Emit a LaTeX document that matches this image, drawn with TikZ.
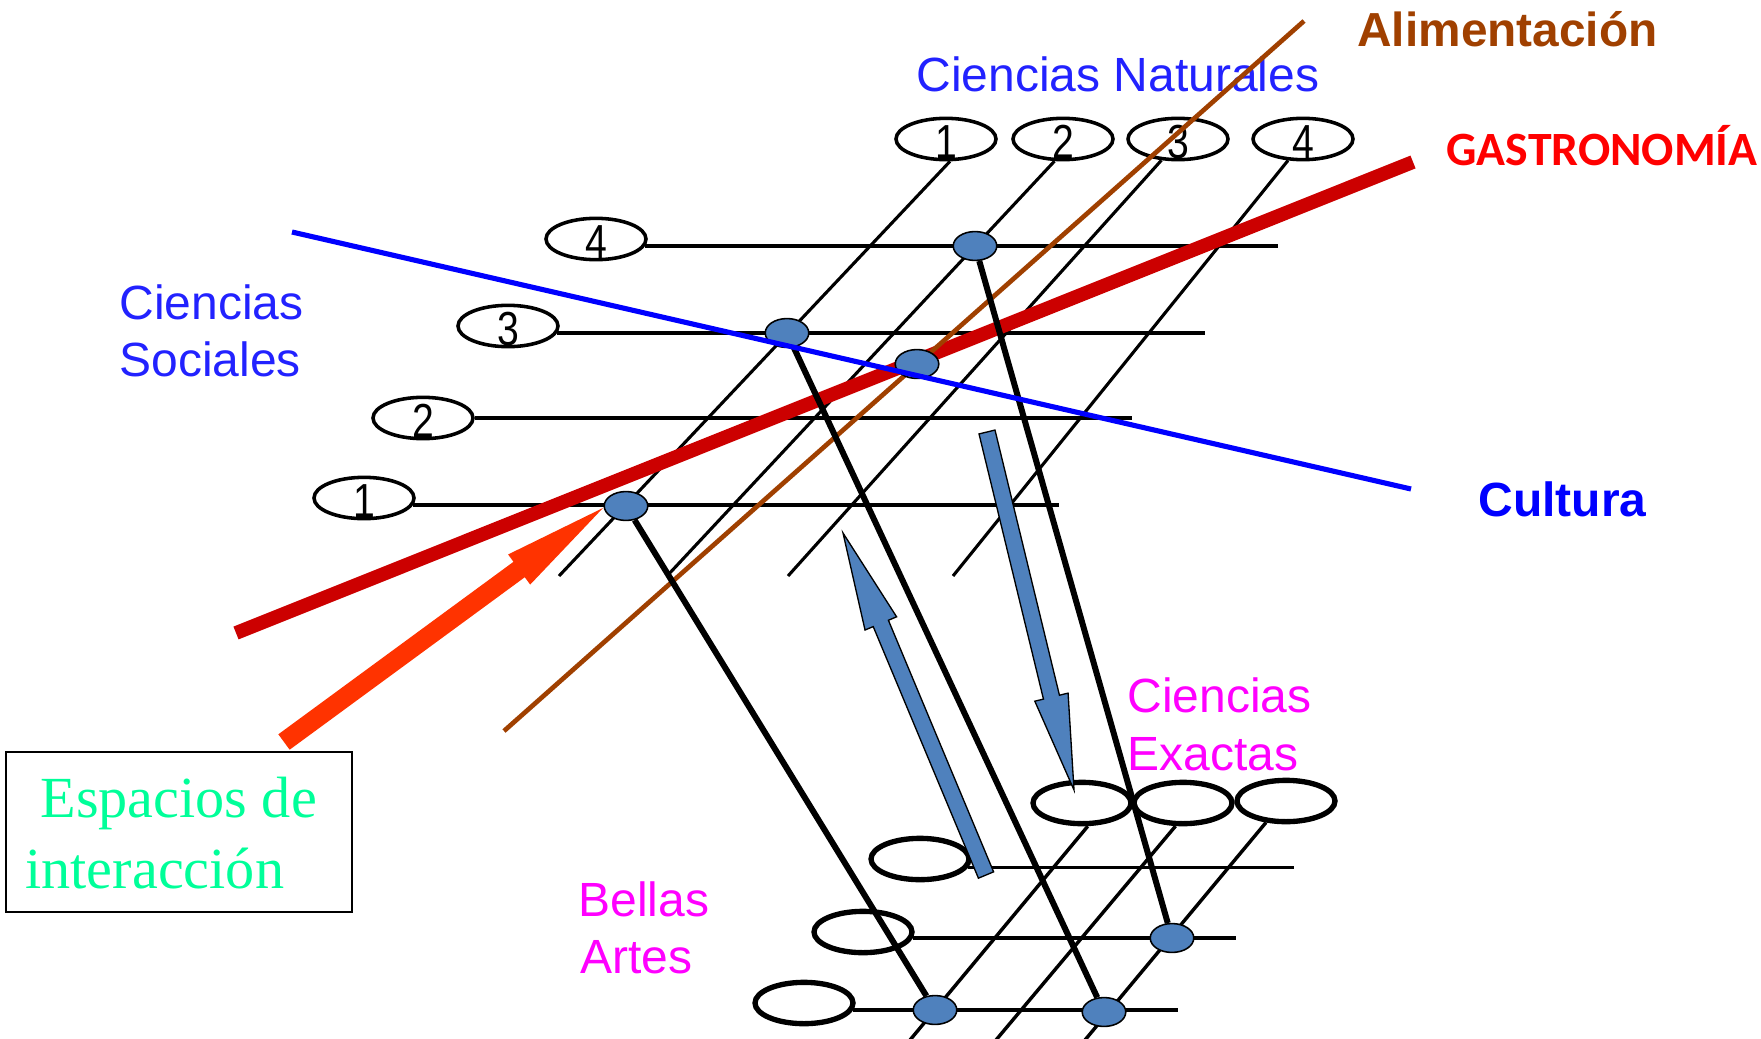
\documentclass[tikz,border=0pt]{standalone}
\usepackage{fontspec}
\setmainfont{Liberation Serif}
\setsansfont{Liberation Sans}
\newfontfamily\arialf{Liberation Sans}
\newfontfamily\narrowf[FakeStretch=0.82]{Liberation Sans}
\newfontfamily\calibrif{Carlito}
\usetikzlibrary{shapes.geometric,calc}
\definecolor{natblue}{RGB}{34,34,255}
\definecolor{culblue}{RGB}{0,0,255}
\definecolor{brownA}{RGB}{160,64,0}
\definecolor{gastrotext}{RGB}{255,0,0}
\definecolor{gastroline}{RGB}{204,0,0}
\definecolor{magentaA}{RGB}{255,0,255}
\definecolor{greenA}{RGB}{0,255,153}
\definecolor{dotblue}{RGB}{79,129,189}
\definecolor{orangeA}{RGB}{255,51,0}
% block arrow: #1 style, #2 tail, #3 tip, #4 head-base name, #5 shaft half width, #6 head half width, #7 head length
\newcommand\blockarr[7]{%
  \coordinate (#4) at ($(#3)!#7!(#2)$);
  \path[#1] ($(#2)!#5!90:(#3)$) -- ($(#4)!#5!90:(#3)$) -- ($(#4)!#6!90:(#3)$) -- (#3)
    -- ($(#4)!#6!-90:(#3)$) -- ($(#4)!#5!-90:(#3)$) -- ($(#2)!#5!-90:(#3)$) -- cycle;}
\begin{document}
\begin{tikzpicture}[x=0.45pt,y=-0.45pt,
  lbl/.style={inner sep=0pt,anchor=base west,font=\arialf\fontsize{21.6pt}{26pt}\selectfont},
  boldlbl/.style={inner sep=0pt,anchor=base west,font=\arialf\bfseries\fontsize{21.6pt}{26pt}\selectfont},
  topell/.style={ellipse,draw,line width=1.6pt,minimum width=45pt,minimum height=18.6pt,inner sep=0pt},
  lowell/.style={ellipse,draw,line width=2.4pt,minimum width=44.1pt,minimum height=18.6pt,inner sep=0pt},
  digit/.style={inner sep=0pt,anchor=base,font=\narrowf\fontsize{21.5pt}{24pt}\selectfont},
  dot/.style={ellipse,draw,fill=dotblue,line width=0.7pt,minimum width=19.6pt,minimum height=13pt,inner sep=0pt},
  gridN/.style={line width=1.4pt},
  gridS/.style={line width=1.5pt},
  gridL/.style={line width=1.55pt},
  link/.style={line width=2.7pt},
  boxst/.style={draw,line width=0.9pt,minimum width=155.7pt,minimum height=72pt,inner sep=0pt},
  serif/.style={inner sep=0pt,anchor=base west,text=greenA,font=\rmfamily\fontsize{26.2pt}{31pt}\selectfont}
]
\path[use as bounding box,fill=white] (0,0) rectangle (1761,1038);

% ---- upper grid: Ciencias Naturales (top) ----
\node[topell] (n1) at (946,139) {};
\node[topell] (n2) at (1063,139) {};
\node[topell] (n3) at (1178,139) {};
\node[topell] (n4) at (1303,139) {};
\node[digit] (n1t) at ($(n1)+(0,20)$) {1};
\node[digit] (n2t) at ($(n2)+(0,20)$) {2};
\node[digit] (n3t) at ($(n3)+(0,20)$) {3};
\node[digit] (n4t) at ($(n4)+(0,20)$) {4};
\coordinate (n1e) at (559,576);
\coordinate (n2e) at (667,576);
\coordinate (n3e) at (788,576);
\coordinate (n4e) at (953,576);
\draw[gridN] (n1.-80) -- (n1e);
\draw[gridN] (n2.-111) -- (n2e);
\draw[gridN] (n3.-128) -- (n3e);
\draw[gridN] (n4.-125) -- (n4e);

% ---- upper grid: Ciencias Sociales (left) ----
\node[topell] (s4) at (596,239) {};
\node[topell] (s3) at (508,326) {};
\node[topell] (s2) at (423,418) {};
\node[topell] (s1) at (364,498) {};
\node[digit] (s4t) at ($(s4)+(0,19.5)$) {4};
\node[digit] (s3t) at ($(s3)+(0,19.5)$) {3};
\node[digit] (s2t) at ($(s2)+(0,19.5)$) {2};
\node[digit] (s1t) at ($(s1)+(0,19.5)$) {1};
\coordinate (s4e) at (1278,246);
\coordinate (s3e) at (1205,332);
\coordinate (s2e) at (1132,418);
\coordinate (s1e) at (1059,504);
\draw[gridS] (s4.-8) -- (s4.-8 -| s4e);
\draw[gridS] (s3.-8) -- (s3.-8 -| s3e);
\draw[gridS] (s2.0) -- (s2.0 -| s2e);
\draw[gridS] (s1.-8) -- (s1.-8 -| s1e);

% ---- lower grid: Ciencias Exactas / Bellas Artes ----
\node[lowell] (e1) at (1082,803) {};
\node[lowell] (e2) at (1183,803) {};
\node[lowell] (e3) at (1286,801) {};
\node[lowell] (b1) at (920,859) {};
\node[lowell] (b2) at (863,932) {};
\node[lowell] (b3) at (804,1003) {};
\coordinate (e1e) at (910,1040);
\coordinate (e2e) at (996,1040);
\coordinate (e3e) at (1085,1040);
\draw[gridL] (e1.-76) -- (e1e);
\draw[gridL] (e2.-108) -- (e2e);
\draw[gridL] (e3.-133) -- (e3e);
\coordinate (b1e) at (1294,867);
\coordinate (b2e) at (1236,938);
\coordinate (b3e) at (1178,1010);
\draw[gridL] (b1.-10) -- (b1.-10 -| b1e);
\draw[gridL] (b2.-7) -- (b2.-7 -| b2e);
\draw[gridL] (b3.-8) -- (b3.-8 -| b3e);

% ---- label under the brown line ----
\node[lbl,text=natblue] (naturales) at (916,92) {Ciencias Naturales};

% ---- thematic lines ----
\coordinate (g1) at (236,633);
\coordinate (g2) at (1413,162);
\draw[gastroline,line width=6.2pt] (g1) -- (g2);
\coordinate (a1) at (504,731);
\coordinate (a2) at (1304,21);
\draw[brownA,line width=2.1pt] (a1) -- (a2);

% ---- dots ----
\node[dot] (d1) at (626,506) {};
\node[dot] (d2) at (787,333) {};
\node[dot] (d3) at (975,246) {};
\node[dot] (d4) at (917,364) {};
\node[dot] (l1) at (935,1010) {};
\node[dot] (l2) at (1104,1012) {};
\node[dot] (l3) at (1172,938) {};

% ---- thick links ----
\draw[link] (d1) -- (l1);
\draw[link] (d2) -- (l2);
\draw[link] (d3) -- (l3);

% ---- culture line ----
\coordinate (c1) at (292,232);
\coordinate (c2) at (1411,489);
\draw[culblue,line width=2.3pt] (c1) -- (c2);

% ---- block arrows ----
\coordinate (uA) at (986,875);
\coordinate (uB) at (843,533);
\blockarr{fill=dotblue,draw=black,line width=0.6pt}{uA}{uB}{uH}{3.7pt}{7.7pt}{44.1pt}
\coordinate (vA) at (987,432);
\coordinate (vB) at (1074,790);
\blockarr{fill=dotblue,draw=black,line width=0.6pt}{vA}{vB}{vH}{3.7pt}{7.7pt}{43pt}
\coordinate (oA) at (284,742);
\coordinate (oB) at (603,508);
\blockarr{fill=orangeA}{oA}{oB}{oH}{4.3pt}{8.4pt}{46.8pt}

% ---- box ----
\node[boxst] (box) at (179,832) {};
\node[serif] (esp1) at (40,817) {Espacios de};
\node[serif] (esp2) at (25,888) {interacción};

% ---- labels ----
\node[boldlbl,text=brownA,font=\arialf\bfseries\fontsize{21.5pt}{26pt}\selectfont] (alim) at (1357,47) {Alimentación};
\node[inner sep=0pt,anchor=base west,text=gastrotext,font=\calibrif\bfseries\fontsize{21.5pt}{25pt}\selectfont] (gastro) at (1446,166) {GASTRONOMÍA};
\node[lbl,text=natblue] (soc1) at (119,319) {Ciencias};
\node[lbl,text=natblue] (soc2) at (119,376) {Sociales};
\node[boldlbl,text=culblue] (cultura) at (1478,516) {Cultura};
\node[lbl,text=magentaA] (exa1) at (1127,712) {Ciencias};
\node[lbl,text=magentaA] (exa2) at (1127,770) {Exactas};
\node[lbl,text=magentaA] (bel1) at (578,916) {Bellas};
\node[lbl,text=magentaA] (bel2) at (580,973) {Artes};
\end{tikzpicture}
\end{document}
